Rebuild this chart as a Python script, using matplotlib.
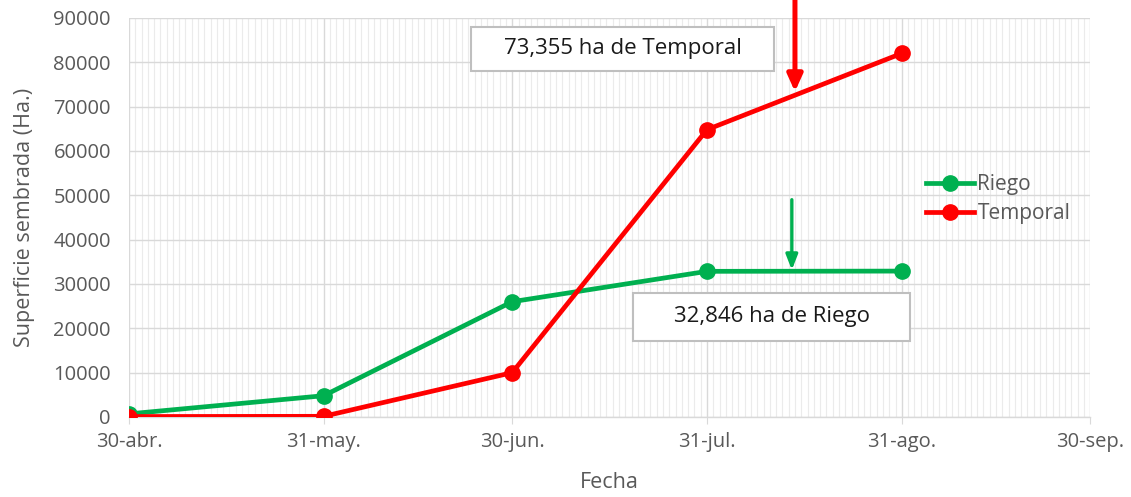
import matplotlib
matplotlib.use("Agg")
import matplotlib.pyplot as plt
import matplotlib.dates as mdates
from matplotlib.patches import Rectangle
import datetime as dt

fechas = ["2021-04-30", "2021-05-31", "2021-06-30", "2021-07-31", "2021-08-31"]
riego = [700, 4800, 26000, 32846, 32900]
temporal = [100, 150, 10000, 64800, 82000]
tick_fechas = ["2021-04-30", "2021-05-31", "2021-06-30", "2021-07-31", "2021-08-31", "2021-09-30"]
tick_labels = ["30-abr.", "31-may.", "30-jun.", "31-jul.", "31-ago.", "30-sep."]
y_ticks = [0, 10000, 20000, 30000, 40000, 50000, 60000, 70000, 80000, 90000]

anot_temporal = "73,355 ha de Temporal"
anot_riego = "32,846 ha de Riego"
arrow_fecha = "2021-08-14"
valor_temporal = 73355
valor_riego = 32846

plt.rcParams['font.family'] = ['Open Sans', 'DejaVu Sans']

to_d = lambda s: dt.datetime.strptime(s, "%Y-%m-%d")
x = [to_d(s) for s in fechas]
xt = [to_d(s) for s in tick_fechas]

fig = plt.figure(figsize=(11.31, 4.97), dpi=100)
ax = fig.add_axes([0.114, 0.161, 0.850, 0.803])

GREEN = "#00B050"
RED = "#FF0000"
GREY = "#595959"

ax.plot(x, riego, color=GREEN, lw=3.4, marker='o', ms=11, label="Riego", zorder=5)
ax.plot(x, temporal, color=RED, lw=3.4, marker='o', ms=11, label="Temporal", zorder=6)

ax.set_xlim(xt[0], xt[-1])
ax.set_ylim(0, 90000)
ax.set_xticks(xt)
ax.set_xticklabels(tick_labels)
ax.xaxis.set_minor_locator(mdates.DayLocator())
ax.set_yticks(y_ticks)
ax.set_yticklabels([str(v) for v in y_ticks])

ax.grid(which='major', axis='both', color='#d9d9d9', lw=1.0, zorder=0)
ax.grid(which='minor', axis='x', color='#ebebeb', lw=0.8, zorder=0)
ax.set_axisbelow(True)
for s in ['top', 'right', 'left']:
    ax.spines[s].set_visible(False)
ax.spines['bottom'].set_color('#d9d9d9')
ax.spines['bottom'].set_linewidth(1.0)
ax.tick_params(axis='x', which='major', colors=GREY, labelsize=14.5, length=5, color='#d9d9d9', pad=6)
ax.tick_params(axis='x', which='minor', length=0)
ax.tick_params(axis='y', colors=GREY, labelsize=14.5, length=0, pad=13)

ax.set_ylabel("Superficie sembrada (Ha.)", color=GREY, fontsize=15.5, labelpad=13)
ax.set_xlabel("Fecha", color=GREY, fontsize=15.5, labelpad=14)

# arrows
xa = to_d(arrow_fecha)
ax.annotate("", xy=(xa, valor_temporal), xytext=(xa, 94200),
            arrowprops=dict(arrowstyle='-|>,head_length=1.0,head_width=0.45', color=RED, lw=3.6,
                            shrinkA=0, shrinkB=0), annotation_clip=False, zorder=8)
ax.annotate("", xy=(mdates.date2num(xa) - 0.5, valor_riego + 300), xytext=(mdates.date2num(xa) - 0.5, 49000),
            arrowprops=dict(arrowstyle='-|>,head_length=0.9,head_width=0.35', color=GREEN, lw=2.4,
                            shrinkA=0, shrinkB=0), annotation_clip=False, zorder=8)

# text boxes
ax.add_patch(Rectangle((0.3559, 0.8672), 0.3153, 0.1103, transform=ax.transAxes,
                       facecolor='white', edgecolor='#bfbfbf', lw=1.5, zorder=9))
ax.text(0.3559 + 0.3153 / 2, 0.8672 + 0.1103 / 2, anot_temporal, transform=ax.transAxes,
        ha='center', va='center', fontsize=16, color='#1a1a1a', zorder=10)
ax.add_patch(Rectangle((0.5245, 0.1905), 0.2882, 0.1203, transform=ax.transAxes,
                       facecolor='white', edgecolor='#bfbfbf', lw=1.5, zorder=9))
ax.text(0.5245 + 0.2882 / 2, 0.1905 + 0.1203 / 2, anot_riego, transform=ax.transAxes,
        ha='center', va='center', fontsize=16, color='#1a1a1a', zorder=10)

leg = ax.legend(loc='upper left', bbox_to_anchor=(0.81, 0.655), frameon=False, fontsize=15,
                handlelength=2.3, handletextpad=0.15, labelspacing=0.38, labelcolor=GREY)

fig.savefig("out.png", dpi=100, facecolor='white')
